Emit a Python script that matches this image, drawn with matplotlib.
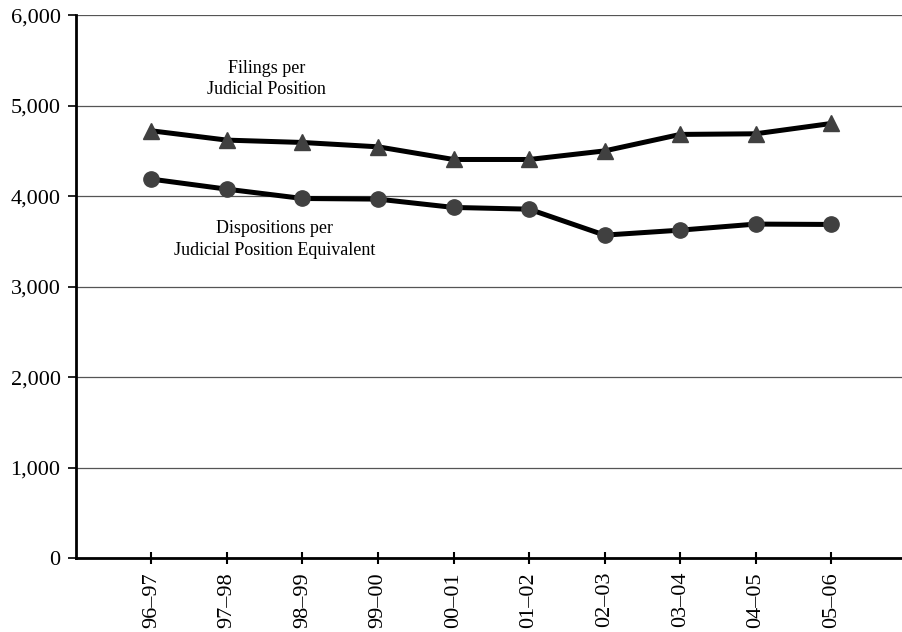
import matplotlib
matplotlib.use("Agg")
import matplotlib.pyplot as plt
from matplotlib.ticker import FuncFormatter

years = ["96\u201397", "97\u201398", "98\u201399", "99\u201300", "00\u201301",
         "01\u201302", "02\u201303", "03\u201304", "04\u201305", "05\u201306"]
filings = [4722, 4619, 4593, 4545, 4405, 4405, 4500, 4682, 4689, 4803]
dispositions = [4188, 4077, 3974, 3967, 3875, 3856, 3569, 3624, 3691, 3687]

plt.rcParams["font.family"] = ["Liberation Serif", "DejaVu Serif"]

fig = plt.figure(figsize=(9.03, 6.32), dpi=100)
ax = fig.add_axes([0.084, 0.117, 0.916, 0.859])

x = list(range(1, len(years) + 1))
ax.plot(x, filings, color="black", lw=3.6, marker="^", ms=12,
        mfc="#404040", mec="#404040", zorder=3)
ax.plot(x, dispositions, color="black", lw=3.6, marker="o", ms=11,
        mfc="#404040", mec="#404040", zorder=3)

ax.set_xlim(0, 10.95)
ax.set_ylim(0, 6000)
ax.set_yticks(range(0, 6001, 1000))
ax.yaxis.set_major_formatter(FuncFormatter(lambda v, p: f"{int(v):,}"))
ax.set_xticks(x)
ax.set_xticklabels(years, rotation=90)

ax.grid(axis="y", color="#555555", lw=0.9)
ax.set_axisbelow(True)
for s in ["top", "right"]:
    ax.spines[s].set_visible(False)
ax.spines["left"].set_linewidth(2)
ax.spines["bottom"].set_linewidth(2)
ax.tick_params(axis="y", length=6, width=1.2, labelsize=16, pad=5)
ax.tick_params(axis="x", direction="inout", length=8, width=1.5,
               labelsize=16, pad=6)

ax.text(2.52, 5293, "Filings per\nJudicial Position", ha="center",
        va="center", fontsize=13, linespacing=1.35)
ax.text(2.63, 3519, "Dispositions per\nJudicial Position Equivalent",
        ha="center", va="center", fontsize=13, linespacing=1.35)

fig.savefig("out.png", dpi=100)
